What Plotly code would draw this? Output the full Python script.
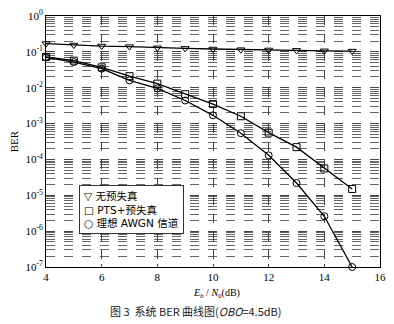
import plotly.graph_objects as go

snr = [4, 5, 6, 7, 8, 9, 10, 11, 12, 13, 14, 15]
ber_nopd = [0.17, 0.155, 0.145, 0.14, 0.13, 0.125, 0.12, 0.115, 0.113, 0.11, 0.107, 0.105]
ber_pts = [0.072, 0.057, 0.037, 0.021, 0.013, 0.0066, 0.0035, 0.0016, 5.6e-4, 2.2e-4, 5.6e-5, 1.5e-5]
ber_awgn = [0.07, 0.052, 0.034, 0.016, 0.0096, 0.0044, 0.0017, 5.4e-4, 1.3e-4, 2.2e-5, 2.6e-6, 1.0e-7]
names = ["无预失真", "PTS+预失真", "理想 AWGN 信道"]
symbols = ["triangle-down-open", "square-open", "circle-open"]
legend_glyphs = ["▽", "□", "○"]
xticks = [4, 6, 8, 10, 12, 14, 16]
yticks = [1, 1e-1, 1e-2, 1e-3, 1e-4, 1e-5, 1e-6, 1e-7]
ytext = ["10<sup>0</sup>", "10<sup>-1</sup>", "10<sup>-2</sup>", "10<sup>-3</sup>",
         "10<sup>-4</sup>", "10<sup>-5</sup>", "10<sup>-6</sup>", "10<sup>-7</sup>"]

serif = "Liberation Serif"
cjk = "Noto Sans CJK SC"

fig = go.Figure()
for ys, sym, nm in zip([ber_nopd, ber_pts, ber_awgn], symbols, names):
    fig.add_trace(go.Scatter(
        x=snr, y=ys, mode="lines+markers", name=nm, showlegend=False, cliponaxis=False,
        line=dict(color="black", width=1.3),
        marker=dict(symbol=sym, size=7, color="black", line=dict(width=1, color="black"))))

fig.update_layout(
    width=394, height=324,
    margin=dict(l=46, r=8, t=10, b=57),
    paper_bgcolor="white", plot_bgcolor="white",
    font=dict(family=serif, size=11, color="black"),
    xaxis=dict(range=[4, 16], tickvals=xticks, showgrid=True,
               gridcolor="#444", griddash="dash", gridwidth=0.8,
               showline=True, linecolor="black", linewidth=1, mirror=True,
               ticks="inside", ticklen=3, zeroline=False,
               tickfont=dict(family=serif, size=11)),
    yaxis=dict(type="log", range=[-7, 0], tickvals=yticks, ticktext=ytext,
               showgrid=True, gridcolor="#444", griddash="dash", gridwidth=0.8,
               minor=dict(showgrid=True, gridcolor="#666", griddash="dash", gridwidth=0.7,
                          dtick="D1"),
               showline=True, linecolor="black", linewidth=1, mirror=True,
               ticks="inside", ticklen=3, zeroline=False,
               title=dict(text="BER", font=dict(family=serif, size=11), standoff=4),
               tickfont=dict(family=serif, size=11)),
)

legend_text = "<br>".join(f"{g} {n}" for g, n in zip(legend_glyphs, names))
fig.add_annotation(xref="paper", yref="paper", x=0.1, y=0.327, xanchor="left", yanchor="top",
                   text=legend_text, showarrow=False, align="left",
                   bordercolor="#333", borderwidth=1, borderpad=4, bgcolor="white",
                   font=dict(family="DejaVu Sans, " + cjk, size=10.5))

fig.add_annotation(xref="paper", yref="paper", x=0.51, y=-0.105, yanchor="middle",
                   text="<i>E<sub>b</sub></i> / <i>N</i><sub>0</sub>(dB)", showarrow=False,
                   font=dict(family=serif, size=10))
fig.add_annotation(xref="paper", yref="paper", x=0.45, y=-0.175, yanchor="middle",
                   text="图 3  系统 BER 曲线图(<i>OBO</i>=4.5dB)", showarrow=False,
                   font=dict(family=cjk + ", " + serif, size=11, color="#222"))

fig.write_html("out.html")
